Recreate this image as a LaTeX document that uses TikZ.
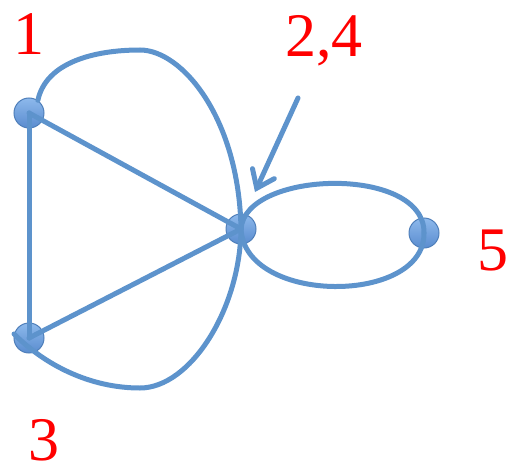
\documentclass[tikz,border=0pt]{standalone}
\usepackage{fontspec}
\setmainfont{Liberation Serif}
\usetikzlibrary{arrows.meta}
\definecolor{edgeblue}{HTML}{5D93CC}
\definecolor{nodetop}{HTML}{8DB9EC}
\definecolor{nodebot}{HTML}{5A8CCF}
\definecolor{nodeline}{HTML}{4F7FBA}
\definecolor{labred}{HTML}{FF0000}
\begin{document}
\begin{tikzpicture}[x=1pt,y=-1pt,
  vtx/.style={circle,minimum size=30pt,inner sep=0pt,top color=nodetop,bottom color=nodebot,draw=nodeline,line width=1pt},
  edge/.style={draw=edgeblue,line width=5pt,line cap=round},
  lab/.style={text=labred,font=\fontsize{62}{62}\selectfont,inner sep=0pt,anchor=base}]
\useasboundingbox (0,0) rectangle (510,473);
\node[vtx] (n1) at (29,113) {};
\node[vtx] (c) at (241,229) {};
\node[vtx] (n5) at (424,233) {};
\node[vtx] (n3) at (29,338) {};
\coordinate (atop) at (140,50);
\coordinate (abot) at (140,388);
\coordinate (arrs) at (298,98);
\coordinate (arrt) at (255,192);
% straight edges
\draw[edge] (n1.center) -- (c.center);
\draw[edge] (n1.center) -- (n3.center);
\draw[edge] (n3.center) -- (c.center);
% big arc through 1, c, 3
\draw[edge] (n1.55) .. controls (46,62) and (95,50) .. (atop)
  .. controls (182,50) and (239,118) .. (c.center)
  .. controls (240,310) and (190,388) .. (abot)
  .. controls (90,388) and (45,365) .. (n3.165);
% loop c - 5
\draw[edge] (c.center) .. controls (245,170) and (425,165) .. (n5.center);
\draw[edge] (c.center) .. controls (245,305) and (425,305) .. (n5.center);
% arrow
\draw[edge,-{Straight Barb[length=16pt,width=24pt,line cap=round]}] (arrs) -- (arrt);
% labels
\node[lab] (l1) at (29,55) {1};
\node[lab] (l24) at (324,57) {2,4};
\node[lab] (l5) at (493,270) {5};
\node[lab] (l3) at (44,460) {3};
\end{tikzpicture}
\end{document}
